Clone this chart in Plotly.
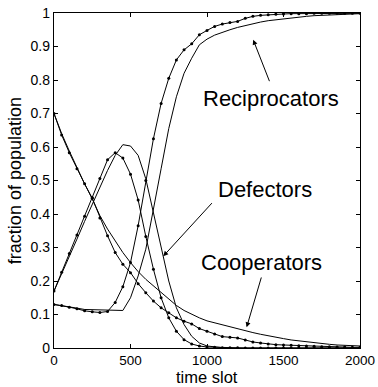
import plotly.graph_objects as go

# time axis (samples every 50 time slots)
t = list(range(0, 2001, 50))

# dotted (marked) series
coop_dot = [0.700, 0.636, 0.583, 0.535, 0.490, 0.447, 0.388, 0.335, 0.285, 0.250,
            0.225, 0.192, 0.165, 0.140, 0.120, 0.105, 0.090, 0.080, 0.072, 0.058,
            0.050, 0.042, 0.034, 0.032, 0.030, 0.024, 0.018, 0.015, 0.012, 0.010,
            0.009, 0.008, 0.007, 0.006, 0.005, 0.004, 0.004, 0.003, 0.003, 0.002, 0.002]
defe_dot = [0.170, 0.226, 0.282, 0.337, 0.393, 0.449, 0.506, 0.562, 0.583, 0.567,
            0.519, 0.442, 0.333, 0.235, 0.150, 0.090, 0.050, 0.025, 0.012, 0.006,
            0.003, 0.002, 0.001, 0.001, 0.001, 0.000, 0.000, 0.000, 0.000, 0.000,
            0.000, 0.000, 0.000, 0.000, 0.000, 0.000, 0.000, 0.000, 0.000, 0.000, 0.000]
reci_dot = [0.130, 0.127, 0.122, 0.117, 0.111, 0.108, 0.106, 0.109, 0.136, 0.183,
            0.255, 0.365, 0.500, 0.625, 0.730, 0.805, 0.860, 0.890, 0.908, 0.935,
            0.948, 0.960, 0.967, 0.972, 0.975, 0.984, 0.990, 0.993, 0.995, 0.996,
            0.997, 0.998, 0.998, 0.998, 0.999, 0.999, 0.999, 0.999, 0.999, 0.999, 0.999]

# solid series
coop_sol = [0.700, 0.640, 0.588, 0.538, 0.490, 0.445, 0.395, 0.355, 0.320, 0.285,
            0.255, 0.228, 0.205, 0.185, 0.165, 0.145, 0.127, 0.112, 0.100, 0.090,
            0.081, 0.075, 0.068, 0.062, 0.057, 0.051, 0.046, 0.041, 0.036, 0.032,
            0.028, 0.024, 0.021, 0.018, 0.015, 0.013, 0.011, 0.009, 0.008, 0.007, 0.006]
defe_sol = [0.170, 0.220, 0.272, 0.325, 0.378, 0.430, 0.480, 0.530, 0.575, 0.607,
            0.603, 0.575, 0.505, 0.400, 0.300, 0.200, 0.120, 0.070, 0.035, 0.015,
            0.006, 0.003, 0.001, 0.000, 0.000, 0.000, 0.000, 0.000, 0.000, 0.000,
            0.000, 0.000, 0.000, 0.000, 0.000, 0.000, 0.000, 0.000, 0.000, 0.000, 0.000]
reci_sol = [0.130, 0.127, 0.123, 0.119, 0.115, 0.114, 0.113, 0.113, 0.112, 0.112,
            0.150, 0.215, 0.295, 0.420, 0.535, 0.655, 0.750, 0.820, 0.865, 0.905,
            0.922, 0.934, 0.943, 0.950, 0.957, 0.963, 0.968, 0.973, 0.977, 0.980,
            0.983, 0.986, 0.988, 0.990, 0.992, 0.993, 0.994, 0.995, 0.996, 0.997, 0.998]

x_ticks = [0, 500, 1000, 1500, 2000]
y_ticks = [0, 0.1, 0.2, 0.3, 0.4, 0.5, 0.6, 0.7, 0.8, 0.9, 1]
y_tick_text = ["0", "0.1", "0.2", "0.3", "0.4", "0.5", "0.6", "0.7", "0.8", "0.9", "1"]

labels = ["Reciprocators", "Defectors", "Cooperators"]
x_title = "time slot"
y_title = "fraction of population"

FONT = "Liberation Sans, Arial, Helvetica, sans-serif"

fig = go.Figure()
for ys in [coop_sol, defe_sol, reci_sol]:
    fig.add_trace(go.Scatter(x=t, y=ys, mode="lines",
                             line=dict(color="black", width=1), hoverinfo="skip"))
for ys in [coop_dot, defe_dot, reci_dot]:
    fig.add_trace(go.Scatter(x=t, y=ys, mode="lines+markers",
                             line=dict(color="black", width=1),
                             marker=dict(color="black", size=3), hoverinfo="skip"))

# text labels
text_pos = [(1415, 0.746), (1379, 0.473), (1353, 0.254)]
for lab, (tx, ty) in zip(labels, text_pos):
    fig.add_annotation(x=tx, y=ty, text=lab, showarrow=False,
                       font=dict(family=FONT, size=22, color="black"),
                       xanchor="center", yanchor="middle")

# arrows (tail -> head)
arrows = [((1412, 0.792), (1302, 0.920)),
          ((1041, 0.437), (714, 0.274)),
          ((1358, 0.215), (1259, 0.062))]
for (axv, ayv), (hx, hy) in arrows:
    fig.add_annotation(x=hx, y=hy, ax=axv, ay=ayv, xref="x", yref="y",
                       axref="x", ayref="y", text="", showarrow=True,
                       arrowhead=2, arrowsize=1, arrowwidth=1, arrowcolor="black",
                       standoff=0, startstandoff=0)

# axis titles
fig.add_annotation(x=0.5, y=-0.116, xref="paper", yref="paper", text=x_title,
                   showarrow=False, xanchor="center", yanchor="bottom", borderpad=0,
                   font=dict(family=FONT, size=16.5, color="black"))
fig.add_annotation(x=-0.127, y=0.4985, xref="paper", yref="paper", text=y_title,
                   showarrow=False, xanchor="center", yanchor="middle", textangle=-90,
                   font=dict(family=FONT, size=18, color="black"))

axis_common = dict(showline=True, linecolor="black", linewidth=1.3, mirror="allticks",
                   ticks="inside", ticklen=4, tickcolor="black", tickwidth=1,
                   showgrid=False, zeroline=False, automargin=False)

fig.update_layout(
    width=378, height=387,
    margin=dict(l=54, r=18, t=13, b=39),
    paper_bgcolor="white", plot_bgcolor="white",
    showlegend=False,
    font=dict(family=FONT, color="black"),
    xaxis=dict(range=[0, 2000], tickvals=x_ticks,
               tickfont=dict(family=FONT, size=13.5, color="black"), **axis_common),
    yaxis=dict(range=[0, 1], tickvals=y_ticks, ticktext=y_tick_text,
               tickfont=dict(family=FONT, size=14, color="black"), **axis_common),
)

fig.write_html("out.html")
